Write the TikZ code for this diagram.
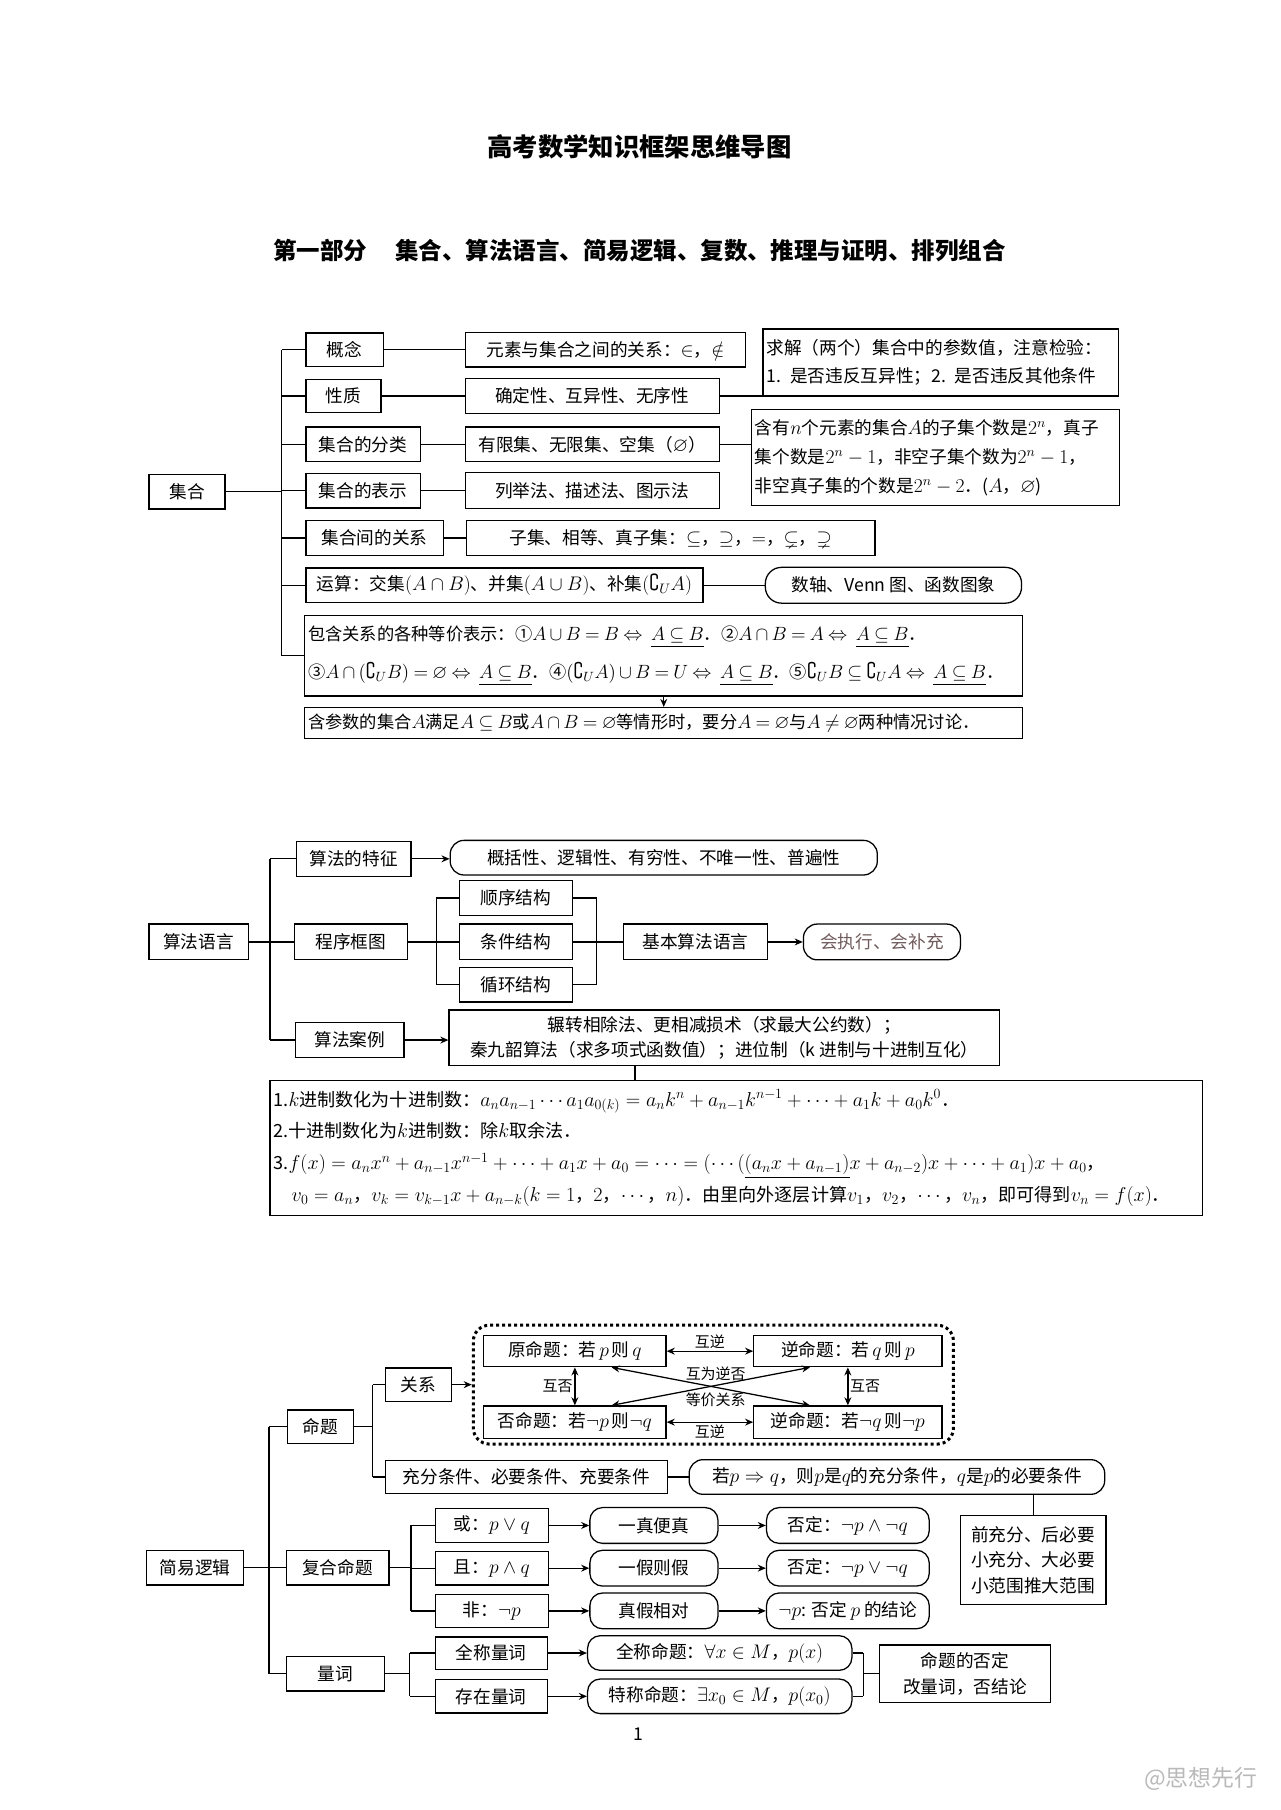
\RequirePackage{fix-cm}
\documentclass[tikz,border=0pt]{standalone}
\usepackage{amsmath,amssymb}
\usepackage{fontspec}
\setmainfont{Noto Sans CJK SC}[Scale=0.9]
\usetikzlibrary{positioning, arrows.meta, calc}
\definecolor{hzc}{RGB}{112,92,92}
\newcommand\tightmath{\thickmuskip=4mu\medmuskip=3mu\relax}

\begin{document}
\begin{tikzpicture}[x=1pt, y=-1pt,
    every node/.style={font=\fontsize{17}{19}\selectfont, inner sep=2pt},
    box/.style={draw, line width=1.1pt, fill=white},
    rbox/.style={box, rounded corners=11pt},
    note/.style={box, align=left, inner sep=3pt},
    lbl/.style={font=\fontsize{14.4}{15}\selectfont, inner sep=1.5pt},
    lnk/.style={line width=1.1pt},
    arr/.style={line width=1.1pt, -{Stealth[length=7pt, width=6pt]}},
    darr/.style={line width=1.1pt, {Stealth[length=7pt, width=6pt]}-{Stealth[length=7pt, width=6pt]}},
]
\useasboundingbox (0,0) rectangle (1109,1568);

% --- 标题 ------------------------------------------------------------
\node[font=\fontsize{24.4}{28}\selectfont\bfseries] (tt) at (554,127) {高考数学知识框架思维导图};
\node[font=\fontsize{22.6}{26}\selectfont\bfseries] (st) at (554,217)
    {第一部分\hspace{1.2em}集合、算法语言、简易逻辑、复数、推理与证明、排列组合};

% --- 集合 ------------------------------------------------------------
\coordinate (t1) at (244,0);
\node[box, minimum width=66, minimum height=30] (jh) at (162,426) {集合};
\node[box, minimum width=67, minimum height=29] (gn) at (298.5,303) {概念};
\node[box, minimum width=243, minimum height=30] (gn1) at (524.5,303) {元素与集合之间的关系：$\in$，$\notin$};
\node[box, minimum width=65, minimum height=29] (xz) at (297.5,343) {性质};
\node[box, minimum width=220, minimum height=30] (xz1) at (513,343) {确定性、互异性、无序性};
\node[box, minimum width=99, minimum height=30] (fl) at (314.5,385) {集合的分类};
\node[box, minimum width=220, minimum height=30] (fl1) at (513,385) {有限集、无限集、空集（$\varnothing$）};
\node[box, minimum width=99, minimum height=30] (bs) at (314.5,425) {集合的表示};
\node[box, minimum width=220, minimum height=31] (bs1) at (513,425) {列举法、描述法、图示法};
\node[box, minimum width=119, minimum height=30] (gx) at (324.5,466) {集合间的关系};
\node[box, minimum width=354, minimum height=30] (gx1) at (581,466)
    {子集、相等、真子集：$\subseteq$，$\supseteq$，$=$，$\subsetneq$，$\supsetneq$};
\node[box, minimum width=344, minimum height=30] (ys) at (437,507)
    {运算：交集$(A\cap B)$、并集$(A\cup B)$、补集$(\complement_UA)$};
\node[rbox, rounded corners=14pt, minimum width=222, minimum height=31] (ys1) at (774,507) {数轴、Venn 图、函数图象};
\node[note, text width=616, minimum height=70, font=\fontsize{16.6}{33}\selectfont\tightmath] (bh) at (575,568)
    {包含关系的各种等价表示：①$A\cup B=B\Leftrightarrow\;\underline{A\subseteq B}$．②$A\cap B=A\Leftrightarrow\;\underline{A\subseteq B}$．\\
     ③$A\cap(\complement_UB)=\varnothing\Leftrightarrow\;\underline{A\subseteq B}$．④$(\complement_UA)\cup B=U\Leftrightarrow\;\underline{A\subseteq B}$．⑤$\complement_UB\subseteq\complement_UA\Leftrightarrow\;\underline{A\subseteq B}$．};
\node[note, text width=616, minimum height=27, font=\fontsize{16.6}{19}\selectfont\tightmath] (cs) at (575,626.5)
    {含参数的集合$A$满足$A\subseteq B$或$A\cap B=\varnothing$等情形时，要分$A=\varnothing$与$A\neq\varnothing$两种情况讨论．};
\node[note, text width=302, minimum height=58, font=\fontsize{17}{24}\selectfont] (qj) at (815,314)
    {求解（两个）集合中的参数值，注意检验：\\1. 是否违反互异性；2. 是否违反其他条件};
\node[note, text width=313, minimum height=83, font=\fontsize{17}{25}\selectfont] (hy) at (810.5,396.5)
    {含有$n$个元素的集合$A$的子集个数是$2^n$，真子\\
     集个数是$2^n-1$，非空子集个数为$2^n-1$，\\
     非空真子集的个数是$2^n-2$．($A$，$\varnothing$)};

\draw[lnk] (jh.east) -- (jh.east -| t1);
\draw[lnk] (gn.west -| t1) -- (bh.west -| t1);
\foreach \n in {gn,xz,fl,bs,gx,ys,bh}
    \draw[lnk] (\n.west) -- (\n.west -| t1);
\foreach \a/\b in {gn/gn1, xz/xz1, fl/fl1, bs/bs1, gx/gx1, ys/ys1}
    \draw[lnk] (\a.east) -- (\a.east -| \b.west);
\draw[lnk] (xz1.east) -- (xz1.east -| qj.west);
\draw[lnk] (fl1.east) -- (fl1.east -| hy.west);
\draw[arr] (bh.south) -- (cs.north);

% --- 算法语言 --------------------------------------------------------
\coordinate (t2) at (234,0);
\node[box, minimum width=86, minimum height=31] (sf) at (172,816) {算法语言};
\node[box, minimum width=99, minimum height=30] (tz) at (306.5,744) {算法的特征};
\node[rbox, rounded corners=12pt, minimum width=370, minimum height=30] (tz1) at (575,743)
    {概括性、逻辑性、有穷性、不唯一性、普遍性};
\node[box, minimum width=98, minimum height=31] (kt) at (304,816) {程序框图};
\node[box, minimum width=98, minimum height=30] (sx) at (447,778) {顺序结构};
\node[box, minimum width=98, minimum height=31] (tj) at (447,816) {条件结构};
\node[box, minimum width=98, minimum height=30] (xh) at (447,853) {循环结构};
\node[box, minimum width=125, minimum height=31] (jb) at (602.5,816) {基本算法语言};
\node[rbox, rounded corners=12pt, minimum width=136, minimum height=31, text=hzc] (hz) at (764,816) {会执行、会补充};
\node[box, minimum width=94, minimum height=30] (al) at (303,901) {算法案例};
\node[box, align=center, minimum width=477, minimum height=48, font=\fontsize{17}{21}\selectfont] (al1) at (627.5,899)
    {辗转相除法、更相减损术（求最大公约数）；\\秦九韶算法（求多项式函数值）；进位制（k 进制与十进制互化）};
\node[note, text width=802, minimum height=117, font=\fontsize{17.4}{27.5}\selectfont] (jz) at (638,994.5)
    {1.$k$进制数化为十进制数：$a_na_{n-1}\cdots a_1a_{0(k)}=a_nk^n+a_{n-1}k^{n-1}+\cdots+a_1k+a_0k^0$．\\
     2.十进制数化为$k$进制数：除$k$取余法．\\
     3.$f(x)=a_nx^n+a_{n-1}x^{n-1}+\cdots+a_1x+a_0=\cdots=(\cdots(\underline{(a_nx+a_{n-1})}x+a_{n-2})x+\cdots+a_1)x+a_0$，\\
     \hspace*{1em}$v_0=a_n$，$v_k=v_{k-1}x+a_{n-k}(k=1$，$2$，$\cdots$，$n)$．由里向外逐层计算$v_1$，$v_2$，$\cdots$，$v_n$，即可得到$v_n=f(x)$．};

\draw[lnk] (sf.east) -- (kt.west);
\draw[lnk] (tz.west -| t2) -- (al.west -| t2);
\foreach \n in {tz,al}
    \draw[lnk] (\n.west) -- (\n.west -| t2);
\draw[arr] (tz.east) -- (tz.east -| tz1.west);
\coordinate (b1) at (378,0);
\coordinate (b2) at (517,0);
\draw[lnk] (kt.east) -- (tj.west);
\draw[lnk] (sx.west) -- (sx.west -| b1) -- (xh.west -| b1) -- (xh.west);
\draw[lnk] (sx.east) -- (sx.east -| b2) -- (xh.east -| b2) -- (xh.east);
\draw[lnk] (tj.east) -- (jb.west);
\draw[arr] (jb.east) -- (hz.west);
\draw[arr] (al.east) -- (al.east -| al1.west);
\coordinate (v1) at (550,0);
\draw[lnk] (al1.south -| v1) -- (jz.north -| v1);

% --- 简易逻辑 --------------------------------------------------------
\coordinate (t3) at (233,0);
\coordinate (t4) at (323,0);
\node[box, minimum width=84, minimum height=30] (lj) at (169,1358) {简易逻辑};
\node[box, minimum width=57, minimum height=29] (mt) at (277.5,1236) {命题};
\node[box, minimum width=57, minimum height=29] (gxr) at (362.5,1199.5) {关系};

% 四种命题（虚线圆角框）
\node[draw, line width=2.6pt, dash pattern=on 2.6pt off 2.6pt, rounded corners=14pt,
      minimum width=416, minimum height=103] (db) at (618,1199.5) {};
\node[box, minimum width=158, minimum height=27] (yt) at (498,1170.5) {原命题：若\,$p$\,则\,$q$};
\node[box, minimum width=163, minimum height=27] (nt) at (734.5,1170.5) {逆命题：若\,$q$\,则\,$p$};
\node[box, minimum width=158, minimum height=28] (ft) at (498,1232) {否命题：若$\neg p$\,则$\neg q$};
\node[box, minimum width=163, minimum height=28] (nft) at (734.5,1232) {逆命题：若$\neg q$\,则$\neg p$};
\draw[darr] (yt.east) -- (nt.west) node[midway, above, lbl] {互逆};
\draw[darr] (ft.east) -- (nft.west) node[midway, below, lbl] {互逆};
\draw[darr] (yt.south) -- (ft.north) node[midway, left, lbl] {互否};
\draw[darr] (nt.south) -- (nft.north) node[midway, right, lbl] {互否};
\draw[darr] ($(yt.south west)!0.7!(yt.south east)$) -- ($(nft.north west)!0.3!(nft.north east)$);
\draw[darr] ($(nt.south west)!0.3!(nt.south east)$) -- ($(ft.north west)!0.7!(ft.north east)$);
\node[lbl] (hw) at (620,1190) {互为逆否};
\node[lbl] (dj) at (620,1213) {等价关系};

\node[box, minimum width=244, minimum height=29] (cf) at (456,1279.5) {充分条件、必要条件、充要条件};
\node[rbox, rounded corners=12pt, minimum width=360, minimum height=30] (cf1) at (777,1279.5)
    {若$p\Rightarrow q$，则$p$是$q$的充分条件，$q$是$p$的必要条件};
\node[note, minimum width=126, minimum height=77, font=\fontsize{17}{22}\selectfont] (qc) at (895,1351.5)
    {前充分、后必要\\小充分、大必要\\小范围推大范围};

\draw[lnk] (mt.east) -- (mt.east -| t4);
\draw[lnk] (gxr.west -| t4) -- (cf.west -| t4);
\foreach \n in {gxr,cf}
    \draw[lnk] (\n.west) -- (\n.west -| t4);
\draw[arr] (gxr.east) -- (gxr.east -| db.west);
\draw[lnk] (cf.east) -- (cf.east -| cf1.west);
\draw[lnk] (qc.north) -- (qc.north |- cf1.south);

% 复合命题
\coordinate (t5) at (356,0);
\node[box, minimum width=89, minimum height=30] (fh) at (292.5,1358) {复合命题};
\node[box, minimum width=98, minimum height=29] (hq) at (426,1321.5) {或：$p\vee q$};
\node[box, minimum width=98, minimum height=29] (qie) at (426,1358.5) {且：$p\wedge q$};
\node[box, minimum width=98, minimum height=29] (fei) at (426,1395.5) {非：$\neg p$};
\node[rbox, minimum width=111, minimum height=31] (hq1) at (566.5,1321.5) {一真便真};
\node[rbox, minimum width=111, minimum height=31] (qie1) at (566.5,1358.5) {一假则假};
\node[rbox, minimum width=111, minimum height=31] (fei1) at (566.5,1395.5) {真假相对};
\node[rbox, minimum width=141, minimum height=31] (hq2) at (734.5,1321.5) {否定：$\neg p\wedge\neg q$};
\node[rbox, minimum width=141, minimum height=31] (qie2) at (734.5,1358.5) {否定：$\neg p\vee\neg q$};
\node[rbox, minimum width=141, minimum height=31] (fei2) at (734.5,1395.5) {$\neg p$: 否定 $p$ 的结论};

\draw[lnk] (fh.east) -- (fh.east -| t5);
\draw[lnk] (hq.west -| t5) -- (fei.west -| t5);
\foreach \n in {hq,qie,fei} {
    \draw[lnk] (\n.west) -- (\n.west -| t5);
    \draw[arr] (\n.east) -- (\n.east -| \n1.west);
    \draw[arr] (\n1.east) -- (\n1.east -| \n2.west);
}

% 量词
\coordinate (t6) at (355,0);
\coordinate (t7) at (748,0);
\node[box, minimum width=85, minimum height=30] (lc) at (290.5,1450) {量词};
\node[box, minimum width=97, minimum height=28] (qcl) at (425.5,1432) {全称量词};
\node[box, minimum width=97, minimum height=29] (czl) at (425.5,1469.5) {存在量词};
\node[rbox, minimum width=229, minimum height=30] (qcl1) at (623.5,1432) {全称命题：$\forall x\in M$，$p(x)$};
\node[rbox, minimum width=229, minimum height=30] (czl1) at (623.5,1469.5) {特称命题：$\exists x_0\in M$，$p(x_0)$};
\node[box, align=center, minimum width=148, minimum height=50, font=\fontsize{17}{22}\selectfont] (mf) at (836,1450)
    {命题的否定\\改量词，否结论};

\draw[lnk] (lc.east) -- (lc.east -| t6);
\draw[lnk] (qcl.west -| t6) -- (czl.west -| t6);
\foreach \n in {qcl,czl} {
    \draw[lnk] (\n.west) -- (\n.west -| t6);
    \draw[arr] (\n.east) -- (\n.east -| \n1.west);
    \draw[lnk] (\n1.east) -- (\n1.east -| t7);
}
\draw[lnk] (qcl1.east -| t7) -- (czl1.east -| t7);
\draw[lnk] (mf.west) -- (mf.west -| t7);

% 主干
\draw[lnk] (lj.east) -- (fh.west);
\draw[lnk] (mt.west -| t3) -- (lc.west -| t3);
\foreach \n in {mt,lc}
    \draw[lnk] (\n.west) -- (\n.west -| t3);

% --- 页码与水印 ------------------------------------------------------
\node (pg) at (553,1502) {1};
\node[text=gray!55, font=\fontsize{22}{24}\selectfont] (wm) at (1040,1541) {@思想先行};

\end{tikzpicture}
\end{document}
